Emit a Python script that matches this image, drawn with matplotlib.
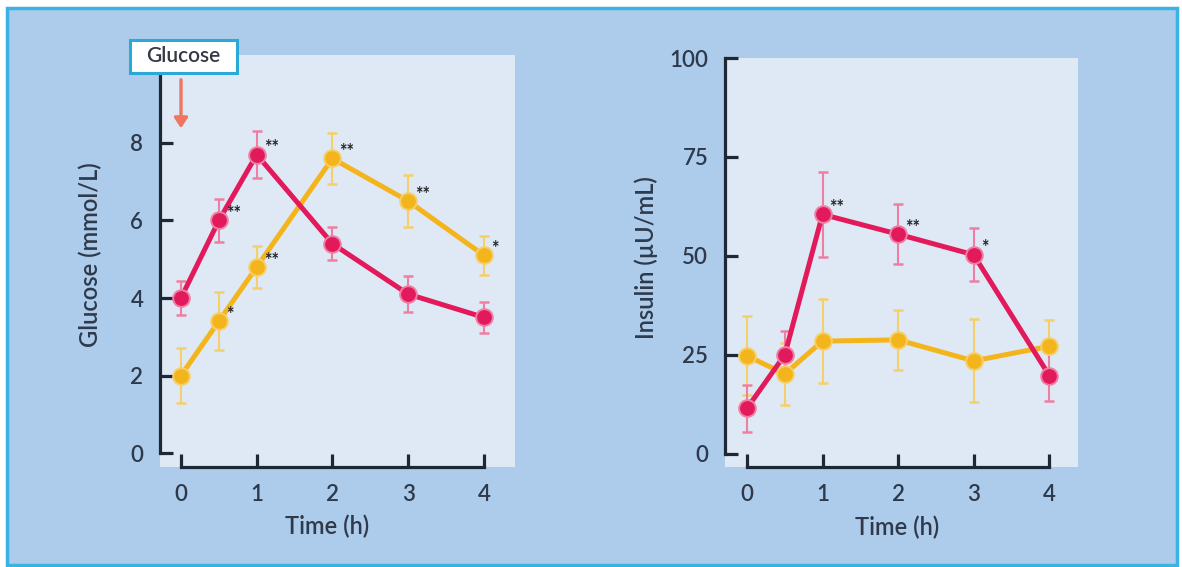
import matplotlib
matplotlib.use("Agg")
import matplotlib.pyplot as plt
from matplotlib.patches import Rectangle, FancyArrowPatch

plt.rcParams['font.family'] = ['Lato', 'DejaVu Sans']

# ---- data ----
time = [0, 0.5, 1, 2, 3, 4]

glucose_red = [4.0, 6.0, 7.7, 5.4, 4.1, 3.5]
glucose_red_err = [0.45, 0.55, 0.6, 0.43, 0.47, 0.4]
glucose_yel = [2.0, 3.4, 4.8, 7.6, 6.5, 5.1]
glucose_yel_err = [0.7, 0.75, 0.55, 0.67, 0.67, 0.5]
glucose_red_sig = ['', '**', '**', '', '', '']
glucose_yel_sig = ['', '*', '**', '**', '**', '*']

insulin_red = [11.5, 25.0, 60.5, 55.5, 50.3, 19.8]
insulin_red_err = [6.0, 6.0, 10.7, 7.5, 6.7, 6.5]
insulin_yel = [24.8, 20.2, 28.5, 28.8, 23.5, 27.2]
insulin_yel_err = [10.0, 7.8, 10.6, 7.5, 10.5, 6.6]
insulin_red_sig = ['', '', '**', '**', '*', '']
insulin_yel_sig = ['', '', '', '', '', '']

x_ticks = [0, 1, 2, 3, 4]
glucose_yticks = [0, 2, 4, 6, 8]
insulin_yticks = [0, 25, 50, 75, 100]

RED = '#e2195b'
RED_LIGHT = '#ee7fa2'
YEL = '#f4b51c'
YEL_LIGHT = '#f5cf6a'
OUTER = '#adcbea'
INNER = '#dfe9f5'
DARK = '#1e2736'
TXT = '#2e3a4b'
WEIGHT = 'semibold'

W, H = 1182, 567
fig = plt.figure(figsize=(W / 100, H / 100), dpi=100)
fig.patch.set_facecolor('white')

# outer framed panel
fig.patches.append(Rectangle((7 / W, 2 / H), 1170 / W, 557 / H, transform=fig.transFigure,
                             facecolor=OUTER, edgecolor='#3ab3e4', linewidth=2.5, zorder=0))


def make_panel(rect, xlim, ylim, ytop, yticks, red, red_err, yel, yel_err, red_sig, yel_sig,
               ylabel, ylab_xy, xlab_xy):
    ax = fig.add_axes(rect)
    ax.set_zorder(2)
    ax.set_facecolor(INNER)
    ax.set_xlim(*xlim)
    ax.set_ylim(*ylim)
    for s in ['top', 'right']:
        ax.spines[s].set_visible(False)
    for s in ['left', 'bottom']:
        ax.spines[s].set_linewidth(2.3)
        ax.spines[s].set_color(DARK)
    ax.spines['left'].set_bounds(0, ytop)
    ax.spines['bottom'].set_bounds(0, 4)
    ax.set_xticks(x_ticks)
    ax.set_yticks(yticks)
    ax.tick_params(direction='in', length=9.5, width=2.3, color=DARK, labelsize=16,
                   labelcolor=TXT)
    ax.tick_params(axis='x', pad=12)
    ax.tick_params(axis='y', pad=12)
    for lab in ax.get_xticklabels() + ax.get_yticklabels():
        lab.set_fontweight(WEIGHT)
    ax.set_ylabel(ylabel, fontsize=17, color=TXT, fontweight=WEIGHT)
    ax.yaxis.set_label_coords(*ylab_xy)
    ax.set_xlabel('Time (h)', fontsize=17, color=TXT, fontweight=WEIGHT)
    ax.xaxis.set_label_coords(*xlab_xy)

    for vals, errs, col, lcol, sig in [(yel, yel_err, YEL, YEL_LIGHT, yel_sig),
                                        (red, red_err, RED, RED_LIGHT, red_sig)]:
        ax.errorbar(time, vals, yerr=errs, fmt='none', ecolor=lcol, elinewidth=1.5,
                    capsize=3.5, capthick=1.8, zorder=2)
        ax.plot(time, vals, color=col, lw=3.6, zorder=3, solid_capstyle='round')
        ax.plot(time, vals, 'o', color=col, ms=12, mec=lcol, mew=1.4, zorder=4,
                linestyle='none')
        for t, v, s in zip(time, vals, sig):
            if s:
                ax.annotate(s, (t, v), xytext=(5, 5), textcoords='offset points',
                            fontsize=13, fontweight='bold', color='#222222',
                            ha='left', va='center', zorder=5)
    return ax


ax1 = make_panel([160 / W, (H - 467) / H, 355 / W, 412 / H], (-0.277, 4.41), (-0.36, 10.27),
                 10.27, glucose_yticks, glucose_red, glucose_red_err, glucose_yel,
                 glucose_yel_err, glucose_red_sig, glucose_yel_sig,
                 'Glucose (mmol/L)', (-0.163, 0.515), (0.47, -0.117))

ax2 = make_panel([725 / W, (H - 467) / H, 353 / W, 409 / H], (-0.29, 4.38), (-3.3, 100),
                 100, insulin_yticks, insulin_red, insulin_red_err, insulin_yel,
                 insulin_yel_err, insulin_red_sig, insulin_yel_sig,
                 'Insulin (\u00b5U/mL)', (-0.19, 0.513), (0.487, -0.12))

# Glucose box and arrow (drawn above the axes)
box = Rectangle((130 / W, (H - 73) / H), 107 / W, 33 / H, transform=fig.transFigure,
                facecolor='white', edgecolor='#2aa8d8', linewidth=2.2, zorder=10)
fig.add_artist(box)
fig.text(183.5 / W, (H - 56.5) / H, 'Glucose', ha='center', va='center', fontsize=15,
         color='#333a44', fontweight=WEIGHT, zorder=11)
arrow = FancyArrowPatch((181 / W, (H - 77) / H), (181 / W, (H - 131) / H),
                        transform=fig.transFigure, arrowstyle='-|>,head_length=6,head_width=4',
                        color='#ee7562', lw=2.4, zorder=11)
fig.add_artist(arrow)

fig.savefig('out.png', dpi=100, facecolor=fig.get_facecolor())
